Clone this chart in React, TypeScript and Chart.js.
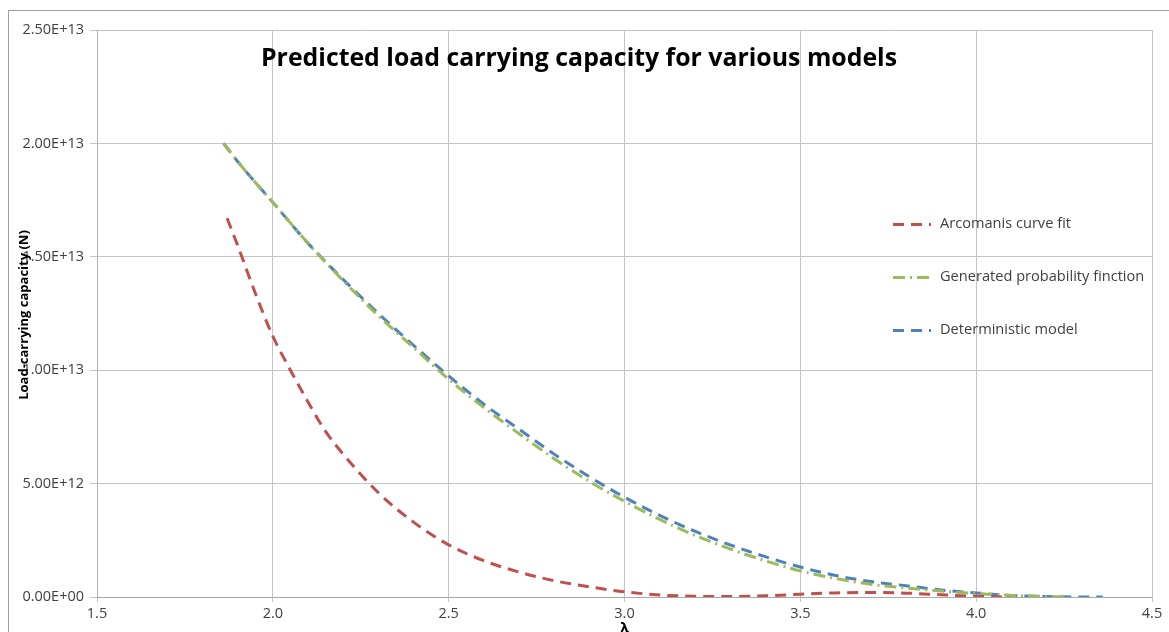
import React, { useEffect, useRef } from "react";
import { Chart, registerables } from "chart.js";

Chart.register(...registerables);

// ---- Data (values in units of 1e12 N) ----
const arcomanisX = [1.87, 1.9, 1.95, 2.0, 2.05, 2.1, 2.15, 2.2, 2.3, 2.4, 2.5, 2.6, 2.7, 2.8, 2.9, 3.0, 3.1, 3.2, 3.3, 3.4, 3.5, 3.6, 3.7, 3.8, 3.9, 4.0, 4.08];
const arcomanisY = [16.7, 15.5, 13.4, 11.5, 10.0, 8.6, 7.3, 6.3, 4.6, 3.3, 2.3, 1.6, 1.1, 0.72, 0.45, 0.23, 0.09, 0.03, 0.02, 0.05, 0.12, 0.18, 0.2, 0.17, 0.1, 0.03, 0.0];

const generatedX = [1.86, 1.9, 2.0, 2.1, 2.2, 2.3, 2.4, 2.5, 2.6, 2.7, 2.8, 2.9, 3.0, 3.1, 3.2, 3.3, 3.4, 3.5, 3.6, 3.7, 3.8, 3.9, 4.0, 4.1, 4.2, 4.26];
const generatedY = [20.0, 19.2, 17.4, 15.6, 13.95, 12.4, 11.0, 9.6, 8.35, 7.2, 6.1, 5.1, 4.22, 3.42, 2.72, 2.12, 1.6, 1.15, 0.82, 0.56, 0.4, 0.26, 0.15, 0.07, 0.02, 0.0];

const deterministicX = [1.86, 1.9, 2.0, 2.1, 2.2, 2.3, 2.4, 2.5, 2.6, 2.7, 2.8, 2.9, 3.0, 3.1, 3.2, 3.3, 3.4, 3.5, 3.6, 3.7, 3.8, 3.9, 4.0, 4.1, 4.2, 4.3, 4.36];
const deterministicY = [20.0, 19.2, 17.4, 15.6, 14.0, 12.5, 11.1, 9.75, 8.5, 7.4, 6.3, 5.3, 4.4, 3.6, 2.9, 2.3, 1.78, 1.32, 0.95, 0.68, 0.5, 0.31, 0.18, 0.07, 0.02, 0.0, 0.0];

const seriesNames = ["Arcomanis curve fit", "Generated probability finction", "Deterministic model"];
const xTicks = [1.5, 2.0, 2.5, 3.0, 3.5, 4.0, 4.5];
const yTicks = [0, 5e12, 1e13, 1.5e13, 2e13, 2.5e13];

const titleText = "Predicted load carrying capacity for various models";
const yTitleText = "Load-carrying capacity (N)";
const xTitleText = "λ";

const fmtExp = (v: number) => {
  if (v === 0) return "0.00E+00";
  const [m, e] = v.toExponential(2).split("e");
  const n = parseInt(e, 10);
  return m + "E" + (n < 0 ? "-" : "+") + String(Math.abs(n)).padStart(2, "0");
};

const toPoints = (xs: number[], ys: number[]) => xs.map((x, i) => ({ x, y: ys[i] * 1e12 }));

const overlayPlugin = {
  id: "overlay",
  afterDraw(chart: any) {
    const ctx = chart.ctx as CanvasRenderingContext2D;
    ctx.save();
    // outer frame
    ctx.strokeStyle = "#a0a0a0";
    ctx.lineWidth = 1;
    ctx.setLineDash([]);
    ctx.strokeRect(8.5, 10.5, 1400, 800);

    // title
    ctx.fillStyle = "#000000";
    ctx.font = "bold 25px 'Open Sans'";
    ctx.textAlign = "center";
    ctx.textBaseline = "alphabetic";
    ctx.fillText(titleText, 579, 66, 636);

    // y-axis title
    ctx.save();
    ctx.translate(24, 315);
    ctx.rotate(-Math.PI / 2);
    ctx.font = "bold 13px 'Open Sans'";
    ctx.textAlign = "center";
    ctx.textBaseline = "middle";
    ctx.fillText(yTitleText, 0, 0, 182);
    ctx.restore();

    // x-axis title
    const xs = chart.scales.x;
    ctx.font = "bold 15px 'Open Sans'";
    ctx.textAlign = "center";
    ctx.textBaseline = "top";
    ctx.fillText(xTitleText, xs.getPixelForValue(3.0), 621);

    // legend
    const legendY = [224, 277, 330];
    chart.data.datasets.forEach((ds: any, i: number) => {
      const y = legendY[i];
      ctx.strokeStyle = ds.borderColor;
      ctx.lineWidth = ds.borderWidth;
      ctx.setLineDash(ds.borderDash || []);
      ctx.beginPath();
      ctx.moveTo(893, y + 0.5);
      ctx.lineTo(931, y + 0.5);
      ctx.stroke();
      ctx.setLineDash([]);
      ctx.fillStyle = "#404040";
      ctx.font = "14.6px 'Open Sans'";
      ctx.textAlign = "left";
      ctx.textBaseline = "middle";
      ctx.fillText(ds.label, 940, y);
    });
    ctx.restore();
  },
};

export default function App() {
  const canvasRef = useRef<HTMLCanvasElement | null>(null);

  useEffect(() => {
    if (!canvasRef.current) return;
    const tickFont = { family: "'Open Sans'", size: 14.5 };
    const chart = new Chart(canvasRef.current, {
      type: "line",
      data: {
        datasets: [
          {
            label: seriesNames[0],
            data: toPoints(arcomanisX, arcomanisY),
            borderColor: "#C0504D",
            borderWidth: 3,
            borderDash: [11, 7],
            pointRadius: 0,
            cubicInterpolationMode: "monotone",
            fill: false,
          },
          {
            label: seriesNames[1],
            data: toPoints(generatedX, generatedY),
            borderColor: "#9BBB59",
            borderWidth: 3,
            borderDash: [12, 5, 2, 5],
            pointRadius: 0,
            cubicInterpolationMode: "monotone",
            fill: false,
          },
          {
            label: seriesNames[2],
            data: toPoints(deterministicX, deterministicY),
            borderColor: "#4F81BD",
            borderWidth: 3,
            borderDash: [11, 7],
            pointRadius: 0,
            cubicInterpolationMode: "monotone",
            fill: false,
          },
        ],
      },
      options: {
        animation: false,
        responsive: false,
        layout: { padding: { top: 30, right: 17, left: 0, bottom: 0 } },
        plugins: {
          legend: { display: false },
          title: { display: false },
          tooltip: { enabled: false },
        },
        scales: {
          x: {
            type: "linear",
            min: xTicks[0],
            max: xTicks[xTicks.length - 1],
            afterBuildTicks: (scale: any) => {
              scale.ticks = xTicks.map((v) => ({ value: v }));
            },
            afterFit: (scale: any) => {
              scale.height = 35;
            },
            ticks: {
              callback: (v: any) => Number(v).toFixed(1),
              font: tickFont,
              color: "#404040",
              padding: 3,
              maxRotation: 0,
            },
            grid: { color: "#c4c4c4", tickLength: 5, lineWidth: 1 },
            border: { color: "#a8a8a8" },
          },
          y: {
            type: "linear",
            min: yTicks[0],
            max: yTicks[yTicks.length - 1],
            afterBuildTicks: (scale: any) => {
              scale.ticks = yTicks.map((v) => ({ value: v }));
            },
            afterFit: (scale: any) => {
              scale.width = 97;
            },
            ticks: {
              callback: (v: any) => fmtExp(Number(v)),
              font: tickFont,
              color: "#404040",
              padding: 6,
            },
            grid: { color: "#c4c4c4", tickLength: 7, lineWidth: 1 },
            border: { color: "#b0b0b0" },
          },
        },
      },
      plugins: [overlayPlugin],
    } as any);
    return () => chart.destroy();
  }, []);

  return (
    <div style={{ position: "fixed", left: 0, top: 0, width: 1169, height: 632, background: "#ffffff" }}>
      <canvas ref={canvasRef} width={1169} height={632} style={{ display: "block" }} />
    </div>
  );
}
